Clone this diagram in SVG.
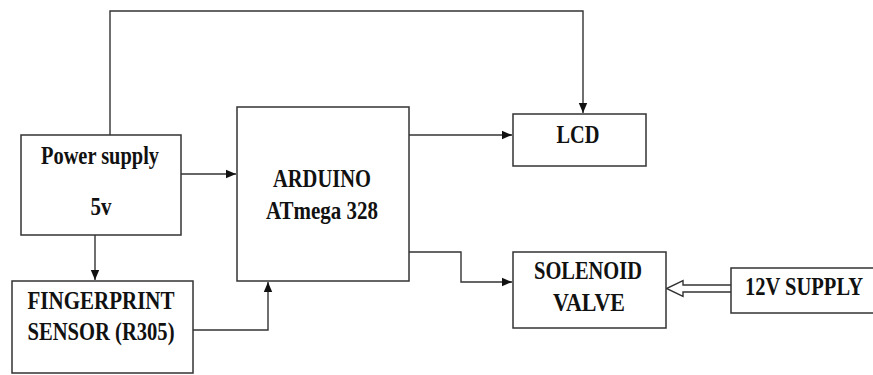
<svg xmlns="http://www.w3.org/2000/svg" width="873" height="375" viewBox="0 0 873 375">
<style>
.box{fill:#fff;stroke:#333;stroke-width:1.5}
.ln{fill:none;stroke:#333;stroke-width:1.4}
.t{font-family:"Liberation Serif","Times New Roman",serif;font-weight:bold;font-size:26px;fill:#111;text-anchor:middle}
</style>
<defs>
<marker id="ah" markerWidth="10" markerHeight="10" viewBox="0 0 10 10" refX="10" refY="5" orient="auto" markerUnits="userSpaceOnUse">
<path d="M0,0.8 L10,5 L0,9.2 Z" fill="#111"/>
</marker>
</defs>
<rect width="873" height="375" fill="#fff"/>
<g id="connectors">
<path class="ln" d="M110,135 V11 H583 V113" marker-end="url(#ah)"/>
<path class="ln" d="M181,174 H236" marker-end="url(#ah)"/>
<path class="ln" d="M409,135 H512" marker-end="url(#ah)"/>
<path class="ln" d="M409,252 H461 V282 H512" marker-end="url(#ah)"/>
<path class="ln" d="M95,235 V280" marker-end="url(#ah)"/>
<path class="ln" d="M193,330 H268 V282" marker-end="url(#ah)"/>
<path class="ln" d="M731,285 H683 V280.5 L666.5,288.5 L683,296.5 V292 H731" stroke-linejoin="miter"/>
</g>
<g id="power">
<rect class="box" x="21" y="135" width="160" height="100"/>
<text class="t" font-family="Liberation Serif, serif" x="100" y="164" textLength="118" lengthAdjust="spacingAndGlyphs">Power supply</text>
<text class="t" font-family="Liberation Serif, serif" x="101" y="215" textLength="21" lengthAdjust="spacingAndGlyphs">5v</text>
</g>
<g id="fingerprint">
<rect class="box" x="12" y="281" width="181" height="92"/>
<text class="t" font-family="Liberation Serif, serif" x="101" y="309" textLength="147" lengthAdjust="spacingAndGlyphs">FINGERPRINT</text>
<text class="t" font-family="Liberation Serif, serif" x="101" y="340" textLength="147" lengthAdjust="spacingAndGlyphs">SENSOR (R305)</text>
</g>
<g id="arduino">
<rect class="box" x="237" y="107" width="172" height="174"/>
<text class="t" font-family="Liberation Serif, serif" x="322" y="187" textLength="98" lengthAdjust="spacingAndGlyphs">ARDUINO</text>
<text class="t" font-family="Liberation Serif, serif" x="322" y="219" textLength="112" lengthAdjust="spacingAndGlyphs">ATmega 328</text>
</g>
<g id="lcd">
<rect class="box" x="513" y="114" width="133" height="52"/>
<text class="t" font-family="Liberation Serif, serif" x="578" y="143" textLength="43" lengthAdjust="spacingAndGlyphs">LCD</text>
</g>
<g id="solenoid">
<rect class="box" x="513" y="252" width="153" height="76"/>
<text class="t" font-family="Liberation Serif, serif" x="588" y="279" textLength="108" lengthAdjust="spacingAndGlyphs">SOLENOID</text>
<text class="t" font-family="Liberation Serif, serif" x="589" y="311" textLength="72" lengthAdjust="spacingAndGlyphs">VALVE</text>
</g>
<g id="supply12">
<path class="box" d="M874,268 H731 V313 H874"/>
<text class="t" font-family="Liberation Serif, serif" x="804" y="295" textLength="118" lengthAdjust="spacingAndGlyphs">12V SUPPLY</text>
</g>
</svg>
